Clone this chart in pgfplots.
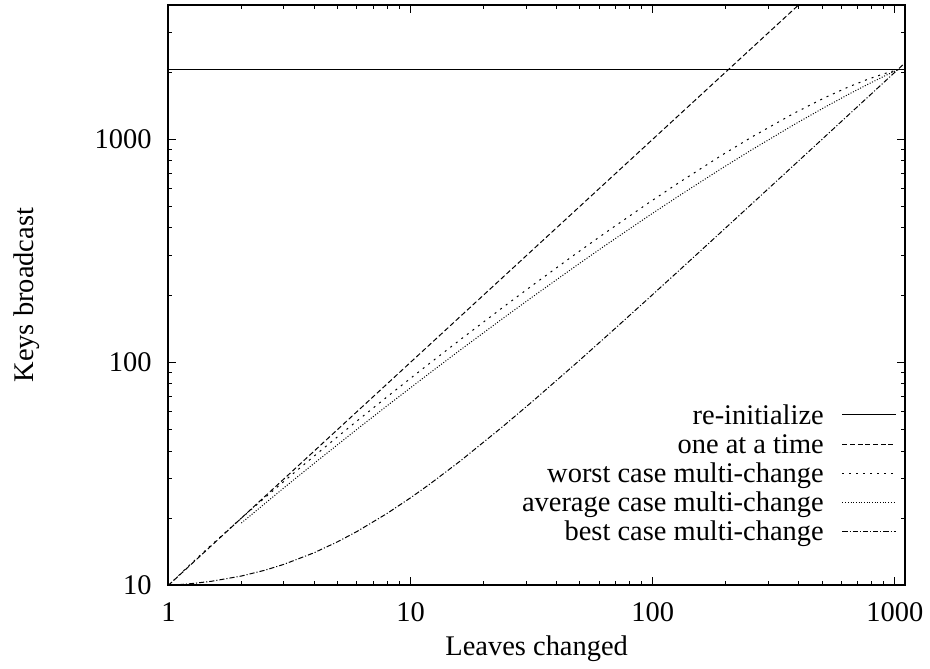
\documentclass[border=0pt]{standalone}
\usepackage{fontspec}
\setmainfont{Liberation Serif}
\usepackage{pgfplots}
\usepackage{pgfplotstable}
\pgfplotsset{compat=1.18}

\pgfplotstableread{
x y
1 2047
1100 2047
}\reinit

\pgfplotstableread{
x y
1 10
1100 11000
}\oneatatime

\pgfplotstableread{
x y
1 10
1.25 12.598
1.5 15.12
2 20
2.5 24.695
3 29.25
4 38
5 46.39
6 54.49
8 70
10 84.78
12 98.98
16 126
24 175.96
32 222
48 305.92
64 382
96 517.84
128 638
192 845.68
256 1022
384 1309.36
512 1534
640 1711.98
768 1852.72
896 1962.57
960 2007.4
1024 2046
1100 2084.37
}\worst

\pgfplotstableread{
x y
2 19.01
3 27.36
4 35.24
6 50.01
8 63.83
12 89.49
16 113.28
24 157.0
32 197.05
48 269.71
64 335.35
96 452.49
128 556.46
192 738.22
256 895.94
384 1164.23
512 1389.73
640 1585.06
768 1757.11
896 1910.0
960 1980.03
1024 2046
}\average

\pgfplotstableread{
x y
1 10
1.1 10.0625
1.25 10.178
1.5 10.415
2 11
2.5 11.678
3 12.415
4 14
5 15.678
6 17.415
8 21
10 24.678
12 28.415
16 36
24 51.415
32 67
48 98.415
64 130
96 193.415
128 257
192 384.415
256 512
384 767.415
512 1023
768 1534.415
1024 2046
1100 2197.9
}\best

\begin{document}
\begin{tikzpicture}[font=\fontsize{14.3}{17}\selectfont]
\begin{axis}[
  at={(0,0)}, anchor=south west,
  xmode=log, ymode=log,
  scale only axis, width=370.15pt, height=291.65pt,
  xmin=1, xmax=1100, ymin=10, ymax=4000,
  xtick={1,10,100,1000}, xticklabels={1,10,100,1000},
  ytick={10,100,1000}, yticklabels={10,100,1000},
  minor xtick={2,3,4,5,6,7,8,9,20,30,40,50,60,70,80,90,200,300,400,500,600,700,800,900},
  minor ytick={20,30,40,50,60,70,80,90,200,300,400,500,600,700,800,900,2000,3000,4000},
  tick align=inside,
  major tick length=4pt, minor tick length=2pt,
  tick style={black, line width=0.5pt},
  axis line style={black, line width=1pt},
  xticklabel style={yshift=-5.2pt},
  yticklabel style={xshift=-4.9pt},
  xlabel={Leaves changed}, ylabel={Keys broadcast},
  xlabel style={at={(axis description cs:0.5,-0.1212)}, anchor=base},
  ylabel style={at={(axis description cs:-0.1837,0.5)}, anchor=base, rotate=0},
  legend plot pos=right,
  legend cell align=right,
  legend image code/.code={\draw[#1] (0pt,0pt) -- (26.7pt,0pt);},
  legend style={at={(0.9880,0.3188)}, anchor=north east, draw=none, fill=none,
    inner sep=0pt, outer sep=0pt, row sep=0pt, column sep=9.15pt,
    nodes={inner sep=0pt, text height=11.97pt, text depth=2.68pt}},
]
\addplot[black, line width=0.5pt, solid] table[x=x,y=y] {\reinit};
\addlegendentry{re-initialize}
\addplot[black, line width=0.5pt, dash pattern=on 2.5pt off 1.35pt] table[x=x,y=y] {\oneatatime};
\addlegendentry{one at a time}
\addplot[black, line width=0.5pt, dash pattern=on 1pt off 2.5pt] table[x=x,y=y] {\worst};
\addlegendentry{worst case multi-change}
\addplot[black, line width=0.5pt, dash pattern=on 0.5pt off 0.85pt] table[x=x,y=y] {\average};
\addlegendentry{average case multi-change}
\addplot[black, line width=0.5pt, dash pattern=on 2.6pt off 1pt on 0.55pt off 1pt] table[x=x,y=y] {\best};
\addlegendentry{best case multi-change}
\end{axis}
\path[use as bounding box] (-84.65pt,-36.85pt) rectangle (380.35pt,294.15pt);
\end{tikzpicture}
\end{document}
